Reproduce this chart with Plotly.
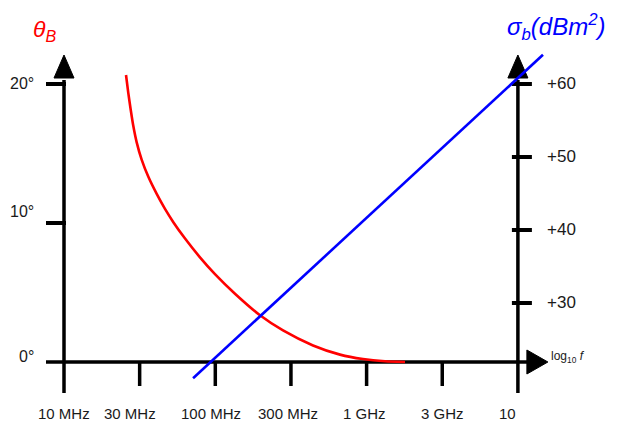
import numpy as np
import plotly.graph_objects as go

# ---------------- data ----------------
theta_freq_mhz = [25.7, 26.6, 27.6, 28.7, 30.2, 32.6, 36.1, 41.0, 46.5, 52.8, 63.1, 79.2,
                  99.5, 134.9, 197.5, 280.3, 442.4, 667.2, 946.6, 1323, 1794]
theta_deg = [20.65, 19.36, 18.15, 16.99, 15.82, 14.56, 13.32, 12.09, 11.01, 10.06, 8.88, 7.53,
             6.32, 4.91, 3.36, 2.27, 1.19, 0.53, 0.21, 0.05, 0.0]

sigma_freq_mhz = [71.3, 14650]
sigma_dbm2 = [19.7, 64.0]

x_tick_log10_mhz = [1, 1.5, 2, 2.5, 3, 3.5, 4]
x_tick_labels = ["10 MHz", "30 MHz", "100 MHz", "300 MHz", "1 GHz", "3 GHz", "10"]
theta_ticks = [0, 10, 20]
theta_tick_labels = ["0°", "10°", "20°"]
sigma_ticks = [30, 40, 50, 60]
sigma_tick_labels = ["+30", "+40", "+50", "+60"]

# ---------------- geometry / style ----------------
OFF = 8                          # page body margin
W, H = 619 - OFF, 432 - OFF
X0_PX, DEC_PX = 64 - OFF, 151.3  # pixel of 10 MHz, pixels per decade
Y0_PX, DEG_PX = 362 - OFF, 13.9  # pixel of 0 deg, pixels per degree
DB_REF, DB_REF_PX, DB_PX = 60, 84 - OFF, 7.3


def dx(p):  # pixel length -> decades
    return p / DEC_PX


def dy(p):  # pixel length -> degrees
    return p / DEG_PX


def px(xp):  # page x pixel -> paper
    return (xp - OFF) / W


def py(yp):  # page y pixel -> paper
    return 1 - (yp - OFF) / H


xr = [1 - X0_PX / DEC_PX, 1 + (W - X0_PX) / DEC_PX]
yr = [-(H - Y0_PX) / DEG_PX, Y0_PX / DEG_PX]
y2r = [DB_REF - (H - DB_REF_PX) / DB_PX, DB_REF + DB_REF_PX / DB_PX]
TOP = Y0_PX / DEG_PX  # degrees at top edge of figure

BLACK = "#000000"
TXT = "#1a1a1a"
FONT = "Liberation Sans, Arial, sans-serif"

fig = go.Figure()
fig.add_trace(go.Scatter(
    x=np.log10(theta_freq_mhz), y=theta_deg, mode="lines",
    line=dict(color="#ff0000", width=2.6, shape="spline", smoothing=0.6),
    hoverinfo="skip", showlegend=False))
fig.add_trace(go.Scatter(
    x=np.log10(sigma_freq_mhz), y=sigma_dbm2, mode="lines", yaxis="y2",
    line=dict(color="#0000ff", width=2.6),
    hoverinfo="skip", showlegend=False))

shapes = []
xl = x_tick_log10_mhz[0]
xrgt = x_tick_log10_mhz[-1]
# vertical axes (arrow tip ~47 px below figure top, base ~70 px)
for xa in (xl, xrgt):
    shapes.append(dict(type="line", xref="x", yref="y", x0=xa, x1=xa,
                       y0=-dy(31), y1=TOP - dy(72), layer="below",
                       line=dict(color=BLACK, width=3.5)))
    tip = TOP - dy(47)
    base = TOP - dy(70)
    shapes.append(dict(type="path", xref="x", yref="y",
                       path=f"M {xa - dx(10)} {base} L {xa + dx(10)} {base} L {xa} {tip} Z",
                       fillcolor=BLACK, line=dict(color=BLACK, width=1), layer="below"))
# horizontal axis
shapes.append(dict(type="line", xref="x", yref="y", x0=xl - dx(18), x1=xrgt + dx(10),
                   y0=0, y1=0, layer="below", line=dict(color=BLACK, width=3.5)))
shapes.append(dict(type="path", xref="x", yref="y",
                   path=f"M {xrgt + dx(9)} {dy(12)} L {xrgt + dx(9)} {-dy(12)} L {xrgt + dx(30)} 0 Z",
                   fillcolor=BLACK, line=dict(color=BLACK, width=1), layer="below"))
# x ticks
for xt in x_tick_log10_mhz[1:-1]:
    shapes.append(dict(type="line", xref="x", yref="y", x0=xt, x1=xt, y0=0, y1=-dy(24),
                       layer="below", line=dict(color=BLACK, width=3.5)))
# left ticks
for t in theta_ticks[1:]:
    shapes.append(dict(type="line", xref="x", yref="y", x0=xl - dx(18), x1=xl + dx(2),
                       y0=t, y1=t, layer="below", line=dict(color=BLACK, width=4)))
# right ticks
for s in sigma_ticks:
    shapes.append(dict(type="line", xref="x", yref="y2", x0=xrgt - dx(6), x1=xrgt + dx(14),
                       y0=s, y1=s, layer="below", line=dict(color=BLACK, width=4)))

ann = []
x_shift = [0, -10, -4, -3, -2, 0, -10]
for xt, lab, sh in zip(x_tick_log10_mhz, x_tick_labels, x_shift):
    ann.append(dict(x=xt, y=0, xref="x", yref="y", text=lab, showarrow=False,
                    xanchor="center", yanchor="middle", xshift=sh, yshift=-51,
                    font=dict(family=FONT, size=15, color=TXT)))
t_shift = [6, 12, 1]
for t, lab, sh in zip(theta_ticks, theta_tick_labels, t_shift):
    ann.append(dict(x=xl, y=t, xref="x", yref="y", text=lab, showarrow=False,
                    xanchor="right", yanchor="middle", xshift=-28, yshift=sh,
                    font=dict(family=FONT, size=16, color=TXT)))
for s, lab in zip(sigma_ticks, sigma_tick_labels):
    ann.append(dict(x=xrgt, y=s, xref="x", yref="y2", text=lab, showarrow=False,
                    xanchor="left", yanchor="middle", xshift=27, yshift=1,
                    font=dict(family=FONT, size=17, color=TXT)))
ann.append(dict(x=px(31), y=py(31), xref="paper", yref="paper",
                text="<i>θ<sub>B</sub></i>", showarrow=False, xanchor="left", yanchor="middle",
                font=dict(family=FONT, size=23, color="#ff0000")))
ann.append(dict(x=px(505), y=py(27), xref="paper", yref="paper",
                text="<i>σ<sub>b</sub>(dBm<sup>2</sup>)</i>", showarrow=False,
                xanchor="left", yanchor="middle",
                font=dict(family=FONT, size=24, color="#0000ff")))
ann.append(dict(x=px(549), y=py(357), xref="paper", yref="paper",
                text="log<sub>10</sub> <i>f</i>", showarrow=False,
                xanchor="left", yanchor="middle",
                font=dict(family=FONT, size=12, color=TXT)))

ax_common = dict(showgrid=False, zeroline=False, showticklabels=False, showline=False,
                 ticks="", fixedrange=True)
fig.update_layout(
    width=W, height=H, autosize=False,
    margin=dict(l=0, r=0, t=0, b=0, pad=0),
    paper_bgcolor="white", plot_bgcolor="white",
    xaxis=dict(range=xr, **ax_common),
    yaxis=dict(range=yr, **ax_common),
    yaxis2=dict(range=y2r, overlaying="y", side="right", **ax_common),
    shapes=shapes, annotations=ann, showlegend=False,
)
fig.write_html("out.html")
